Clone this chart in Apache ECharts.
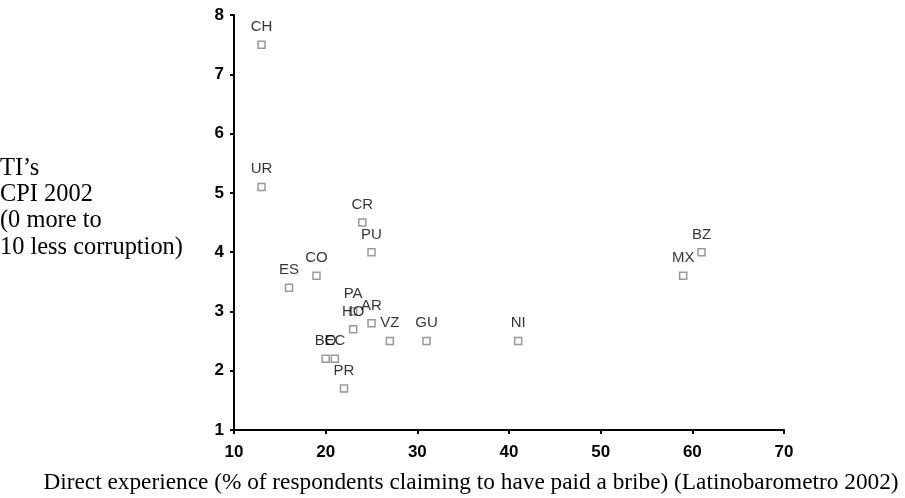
<!DOCTYPE html>
<html>
<head>
<meta charset="utf-8">
<script src="https://cdn.jsdelivr.net/npm/echarts@6/dist/echarts.min.js"></script>
<style>
html,body{margin:0;padding:0;background:#fff;}
#chart{width:905px;height:498px;}
</style>
</head>
<body>
<div id="chart"></div>
<script>
// Country codes
var countries = ['CH','UR','CR','PU','CO','ES','PA','AR','HO','VZ','GU','NI','BO','EC','PR','BZ','MX'];
// Direct experience of bribery (%)
var bribery   = [13, 13, 24, 25, 19, 16, 23, 25, 23, 27, 31, 41, 20, 21, 22, 61, 59];
// TI CPI 2002
var cpi       = [7.5, 5.1, 4.5, 4.0, 3.6, 3.4, 3.0, 2.8, 2.7, 2.5, 2.5, 2.5, 2.2, 2.2, 1.7, 4.0, 3.6];

var xTicks = [10, 20, 30, 40, 50, 60, 70];
var yTicks = [1, 2, 3, 4, 5, 6, 7, 8];

var xTitle = 'Direct experience (% of respondents claiming to have paid a bribe) (Latinobarometro 2002)';
var yTitleLines = ['TI\u2019s', 'CPI 2002', '(0 more to', '10 less corruption)'];

var points = countries.map(function (c, i) {
  return { name: c, value: [bribery[i], cpi[i]] };
});

var chart = echarts.init(document.getElementById('chart'), null, { renderer: 'canvas' });
var tickFont = { fontFamily: 'Liberation Sans', fontWeight: 'bold', fontSize: 17, color: '#000' };
chart.setOption({
  animation: false,
  backgroundColor: '#fff',
  grid: { left: 234, right: 121, top: 15, bottom: 68, containLabel: false },
  xAxis: {
    type: 'value',
    min: xTicks[0], max: xTicks[xTicks.length - 1], interval: 10,
    splitLine: { show: false },
    axisLine: { show: true, onZero: false, lineStyle: { color: '#000', width: 2 } },
    axisTick: { show: true, length: 4, lineStyle: { color: '#000', width: 2 } },
    axisLabel: Object.assign({ margin: 14 }, tickFont)
  },
  yAxis: {
    type: 'value',
    min: yTicks[0], max: yTicks[yTicks.length - 1], interval: 1,
    splitLine: { show: false },
    axisLine: { show: true, onZero: false, lineStyle: { color: '#000', width: 2 } },
    axisTick: { show: true, length: 4, lineStyle: { color: '#000', width: 2 } },
    axisLabel: Object.assign({ margin: 10 }, tickFont)
  },
  graphic: [
    {
      type: 'text',
      style: {
        x: 471, y: 483,
        text: xTitle,
        font: '23.3px "Liberation Serif"',
        fill: '#000',
        align: 'center',
        verticalAlign: 'middle'
      }
    },
    {
      type: 'text',
      style: {
        x: 0, y: 155,
        text: yTitleLines.join('\n'),
        font: '24.4px "Liberation Serif"',
        lineHeight: 26.4,
        fill: '#000',
        align: 'left',
        verticalAlign: 'top'
      }
    }
  ],
  series: [{
    type: 'scatter',
    data: points,
    symbol: 'rect',
    symbolSize: 7,
    itemStyle: { color: '#fff', borderColor: '#808080', borderWidth: 1.5 },
    label: {
      show: true,
      position: 'top',
      distance: 6,
      formatter: function (p) { return p.name; },
      fontFamily: 'Liberation Sans',
      fontSize: 15,
      color: '#000'
    }
  }]
});
</script>
</body>
</html>
